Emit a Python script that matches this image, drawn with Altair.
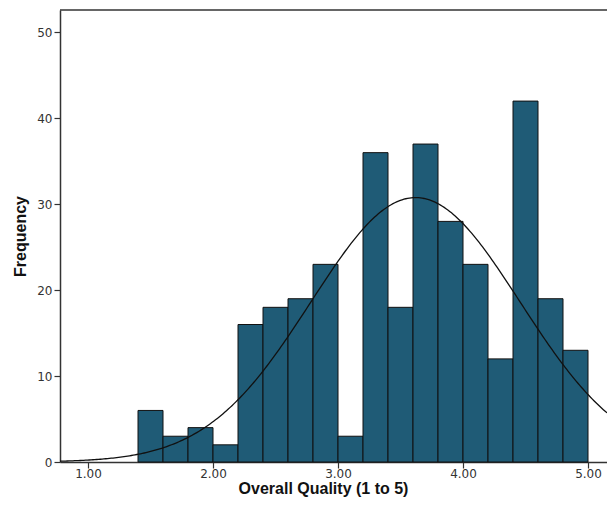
import altair as alt
import pandas as pd
import numpy as np

# Histogram bins (Overall Quality, bin width 0.2) and frequencies
bin_starts = [1.4, 1.6, 1.8, 2.0, 2.2, 2.4, 2.6, 2.8, 3.0, 3.2, 3.4, 3.6, 3.8, 4.0, 4.2, 4.4, 4.6, 4.8]
counts = [6, 3, 4, 2, 16, 18, 19, 23, 3, 36, 18, 37, 28, 23, 12, 42, 19, 13]
bin_width = 0.2

# Fitted normal curve parameters
curve_mean = 3.62
curve_sd = 0.835
n_total = sum(counts)

x_ticks = [1, 2, 3, 4, 5]
y_ticks = [0, 10, 20, 30, 40, 50]
x_domain = [0.776, 5.152]
y_domain = [0, 52.6]

bars = pd.DataFrame({
    "start": bin_starts,
    "end": [b + bin_width for b in bin_starts],
    "count": counts,
})

xs = np.linspace(x_domain[0], x_domain[1], 300)
curve = pd.DataFrame({
    "x": xs,
    "y": n_total * bin_width / (curve_sd * np.sqrt(2 * np.pi))
    * np.exp(-0.5 * ((xs - curve_mean) / curve_sd) ** 2),
})

W, H = 547, 452

xscale = alt.Scale(domain=x_domain, nice=False, zero=False)
yscale = alt.Scale(domain=y_domain, nice=False)

xaxis = alt.Axis(values=x_ticks, format=".2f", title="Overall Quality (1 to 5)",
                 titleX=263, titlePadding=1, labelPadding=0)
yaxis = alt.Axis(values=y_ticks, title="Frequency", titlePadding=8, labelPadding=2)

hist = alt.Chart(bars).mark_rect(
    fill="#1f5b76", stroke="#111111", strokeWidth=1
).encode(
    x=alt.X("start:Q", scale=xscale, axis=xaxis),
    x2="end:Q",
    y=alt.Y("count:Q", scale=yscale, axis=yaxis),
    y2=alt.datum(0),
)

line = alt.Chart(curve).mark_line(color="#111111", strokeWidth=1.3, clip=True).encode(
    x=alt.X("x:Q", scale=xscale),
    y=alt.Y("y:Q", scale=yscale),
)

top = alt.Chart(pd.DataFrame({"a": [0]})).mark_rule(color="#333333", strokeWidth=1.5).encode(
    x=alt.value(0), x2=alt.value(W), y=alt.value(0)
)

chart = alt.layer(hist, line, top).properties(
    width=W, height=H,
    autosize=alt.AutoSizeParams(type="none"),
    padding={"left": 52, "top": 2, "right": 0, "bottom": 40},
).configure_view(
    stroke=None
).configure_axis(
    grid=False,
    domainColor="#333333",
    domainWidth=1.5,
    tickColor="#333333",
    tickSize=6,
    tickWidth=1.2,
    labelFont="DejaVu Sans",
    labelFontSize=12,
    labelColor="#333333",
    titleFont="Liberation Sans",
    titleFontWeight="bold",
    titleColor="#111111",
).configure_axisX(
    titleFontSize=16,
).configure_axisY(
    titleFontSize=16,
)

chart.save("out.html", embed_options={"renderer": "svg", "actions": False})
